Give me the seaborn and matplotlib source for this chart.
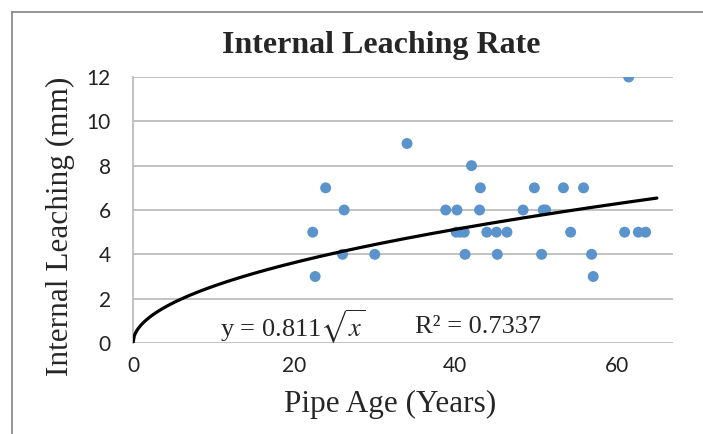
import numpy as np
import matplotlib
matplotlib.use("Agg")
import matplotlib.pyplot as plt
from matplotlib.lines import Line2D
import seaborn as sns

# pipe age (years) and measured internal leaching (mm)
pipe_age = [22.3, 22.6, 23.9, 26.2, 26.0, 30.0, 34.0, 38.8, 40.2, 40.1, 40.6, 41.1,
            41.2, 42.0, 43.1, 43.0, 43.9, 45.1, 45.2, 46.4, 48.4, 49.8, 50.7, 50.9,
            51.2, 53.4, 54.3, 55.9, 56.9, 57.1, 61.0, 61.5, 62.7, 63.6]
leaching = [5, 3, 7, 6, 4, 4, 9, 6, 6, 5, 5, 5,
            4, 8, 7, 6, 5, 5, 4, 5, 6, 7, 4, 6,
            6, 7, 5, 7, 4, 3, 5, 12, 5, 5]

# trendline y = a * sqrt(x)
trend_coef = 0.811
trend_end = 65
r_squared = 0.7337

x_ticks = [0, 20, 40, 60]
y_ticks = [0, 2, 4, 6, 8, 10, 12]

sns.set_theme(style="white")
plt.rcParams['font.family'] = ['Lato', 'DejaVu Sans']
plt.rcParams['mathtext.fontset'] = 'stix'

fig = plt.figure(figsize=(7.03, 4.34), dpi=100)
ax = fig.add_axes([133 / 703, 1 - 343 / 434, 540 / 703, 266 / 434])

trend_x = np.linspace(0, trend_end, 400)
trend_y = trend_coef * np.sqrt(trend_x)

for yv in y_ticks:
    ax.axhline(yv, color='#bdbdbd', lw=1.3, zorder=0)

sns.scatterplot(x=pipe_age, y=leaching, ax=ax, color='#5b93cc', s=62,
                edgecolor='none', zorder=3)
sns.lineplot(x=trend_x, y=trend_y, ax=ax, color='black', lw=2.3, zorder=4)

ax.set_xlim(0, 67)
ax.set_ylim(0, 12)
ax.set_xticks(x_ticks)
ax.set_yticks(y_ticks)
ax.tick_params(axis='both', labelsize=15, length=0, colors='#222222')
ax.tick_params(axis='y', pad=16)
ax.tick_params(axis='x', pad=9)

for side in ['top', 'right', 'bottom']:
    ax.spines[side].set_visible(False)
ax.spines['left'].set_color('#bdbdbd')
ax.spines['left'].set_linewidth(1.3)

ax.set_xlabel('Pipe Age (Years)', family='Liberation Serif', fontsize=22.5)
ax.set_ylabel('Internal Leaching (mm)', family='Liberation Serif', fontsize=22.5)
ax.xaxis.set_label_coords(0.476, -0.175)
ax.yaxis.set_label_coords(-0.108, 0.44)

fig.text(381 / 703, 1 - 45 / 434, 'Internal Leaching Rate', family='Liberation Serif',
         fontsize=23, fontweight='bold', ha='center', va='center')

ax.text(10.8, 0.72, 'y = ' + f'{trend_coef:.3f}' + r'$\sqrt{x}$', family='Liberation Serif',
        fontsize=19, va='center', ha='left')
ax.text(35.0, 0.72, f'R² = {r_squared:.4f}', family='Liberation Serif',
        fontsize=19, va='center', ha='left')

# chart area border (cropped on right and bottom)
fig.add_artist(Line2D([12 / 703, 12 / 703], [0, 1 - 12 / 434], color='#8c8c8c', lw=1.3))
fig.add_artist(Line2D([12 / 703, 1], [1 - 12 / 434, 1 - 12 / 434], color='#8c8c8c', lw=1.3))

fig.savefig('out.png', dpi=100)
